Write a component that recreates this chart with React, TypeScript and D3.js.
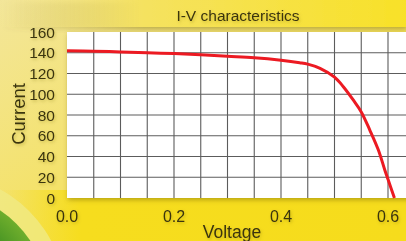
import React, { useEffect, useRef } from 'react'
import * as d3 from 'd3'

// I-V curve
const voltage = [0, 0.05, 0.1, 0.15, 0.2, 0.25, 0.3, 0.35, 0.4, 0.435, 0.45, 0.473, 0.5, 0.5165, 0.535, 0.55, 0.566, 0.582, 0.594, 0.6, 0.612]
const current = [142, 141.5, 140.8, 140, 139.2, 138, 136.6, 135.2, 132.8, 130.4, 129, 125, 116.5, 107.3, 94.5, 83, 65.5, 46.3, 27, 18, 0]

const xTicks = [0, 0.2, 0.4, 0.6]
const yTicks = [0, 20, 40, 60, 80, 100, 120, 140, 160]
const xGrid = d3.range(1, 13).map(i => i * 0.05)
const yGrid = [20, 40, 60, 80, 100, 120, 140]

const title = 'I-V characteristics'
const xLabel = 'Voltage'
const yLabel = 'Current'

const W = 406
const H = 241
const font = '"Liberation Sans", Arial, sans-serif'
const ink = '#3a3410'

const App = () => {
    const ref = useRef<SVGSVGElement>(null)

    useEffect(() => {
        const svg = d3.select(ref.current)
        svg.selectAll('*').remove()

        const x = d3.scaleLinear().domain([0, 0.65]).range([67, 414.75])
        const y = d3.scaleLinear().domain([0, 160]).range([198, 32])

        const defs = svg.append('defs')

        const bg = defs.append('linearGradient').attr('id', 'bg')
            .attr('x1', 0).attr('y1', 0).attr('x2', 1).attr('y2', 1)
        bg.append('stop').attr('offset', 0).attr('stop-color', '#f3e69a')
        bg.append('stop').attr('offset', 0.45).attr('stop-color', '#f4e26a')
        bg.append('stop').attr('offset', 1).attr('stop-color', '#f7df26')

        const band = defs.append('linearGradient').attr('id', 'band')
            .attr('x1', 0).attr('y1', 0).attr('x2', 1).attr('y2', 0)
        band.append('stop').attr('offset', 0).attr('stop-color', '#f3e48a').attr('stop-opacity', 0)
        band.append('stop').attr('offset', 0.35).attr('stop-color', '#f5e260')
        band.append('stop').attr('offset', 1).attr('stop-color', '#f8e128')

        const low = defs.append('linearGradient').attr('id', 'low')
            .attr('x1', 0).attr('y1', 0).attr('x2', 1).attr('y2', 0)
        low.append('stop').attr('offset', 0).attr('stop-color', '#f6dd1e').attr('stop-opacity', 0)
        low.append('stop').attr('offset', 0.2).attr('stop-color', '#f6dd1e')
        low.append('stop').attr('offset', 1).attr('stop-color', '#f6dc1c')

        const green = defs.append('radialGradient').attr('id', 'green')
        green.append('stop').attr('offset', 0.7).attr('stop-color', '#3f8f22')
        green.append('stop').attr('offset', 1).attr('stop-color', '#6fae2c')

        defs.append('filter').attr('id', 'shadow')
            .attr('x', -0.1).attr('y', -0.1).attr('width', 1.2).attr('height', 1.3)
            .append('feDropShadow')
            .attr('dx', 1).attr('dy', 2).attr('stdDeviation', 2.5)
            .attr('flood-color', '#6b5a00').attr('flood-opacity', 0.45)

        defs.append('filter').attr('id', 'textShadow')
            .attr('x', -0.2).attr('y', -0.3).attr('width', 1.4).attr('height', 1.6)
            .append('feDropShadow')
            .attr('dx', 1).attr('dy', 1.5).attr('stdDeviation', 1.5)
            .attr('flood-color', '#7a6a00').attr('flood-opacity', 0.35)

        // background
        svg.append('rect').attr('width', W).attr('height', H).attr('fill', 'url(#bg)')

        svg.append('rect').attr('x', 0).attr('y', 190).attr('width', W).attr('height', 60)
            .attr('fill', 'url(#low)')

        svg.append('circle').attr('cx', -60).attr('cy', 300).attr('r', 126)
            .attr('fill', '#f0ea84').attr('opacity', 0.8)
        svg.append('circle').attr('cx', -60).attr('cy', 300).attr('r', 108)
            .attr('fill', 'url(#green)')

        svg.append('rect').attr('x', 0).attr('y', 0).attr('width', W).attr('height', 27)
            .attr('fill', 'url(#band)').attr('filter', 'url(#shadow)')

        // plot area
        svg.append('rect')
            .attr('x', x(0)).attr('y', y(160))
            .attr('width', W - x(0) + 20).attr('height', y(0) - y(160))
            .attr('fill', '#fff').attr('filter', 'url(#shadow)')

        const g = svg.append('g')

        g.selectAll('line.v')
            .data(xGrid)
            .join('line')
            .attr('class', 'v')
            .attr('x1', d => x(d)).attr('x2', d => x(d))
            .attr('y1', y(160)).attr('y2', y(0))
            .attr('stroke', '#5c5c5c').attr('stroke-width', 1.1)

        g.selectAll('line.h')
            .data(yGrid)
            .join('line')
            .attr('class', 'h')
            .attr('x1', x(0)).attr('x2', W)
            .attr('y1', d => y(d)).attr('y2', d => y(d))
            .attr('stroke', '#5c5c5c').attr('stroke-width', 1.1)

        const line = d3.line<number>()
            .x((d, i) => x(voltage[i]))
            .y(d => y(d))
            .curve(d3.curveCatmullRom.alpha(0.5))

        g.append('path')
            .datum(current)
            .attr('d', line)
            .attr('fill', 'none')
            .attr('stroke', '#ec1a22')
            .attr('stroke-width', 3)

        // labels
        const labels = svg.append('g')
            .attr('font-family', font)
            .attr('fill', ink)
            .attr('filter', 'url(#textShadow)')

        labels.selectAll('text.y')
            .data(yTicks)
            .join('text')
            .attr('class', 'y')
            .attr('x', 55)
            .attr('y', d => y(d))
            .attr('dy', '0.36em')
            .attr('text-anchor', 'end')
            .attr('font-size', 15.5)
            .text(d => d)

        labels.selectAll('text.x')
            .data(xTicks)
            .join('text')
            .attr('class', 'x')
            .attr('x', d => x(d))
            .attr('y', 216)
            .attr('dy', '0.36em')
            .attr('text-anchor', 'middle')
            .attr('font-size', 16)
            .text(d => d3.format('.1f')(d))

        labels.append('text')
            .attr('x', 232)
            .attr('y', 238)
            .attr('text-anchor', 'middle')
            .attr('font-size', 17.5)
            .text(xLabel)

        labels.append('text')
            .attr('transform', 'translate(25,114) rotate(-90)')
            .attr('text-anchor', 'middle')
            .attr('font-size', 18.5)
            .text(yLabel)

        labels.append('text')
            .attr('x', 238)
            .attr('y', 15)
            .attr('dy', '0.36em')
            .attr('text-anchor', 'middle')
            .attr('font-size', 15.5)
            .text(title)
    }, [])

    return (
        <svg ref={ref} width={W} height={H}
            style={{ position: 'fixed', left: 0, top: 0, display: 'block' }} />
    )
}

export default App
